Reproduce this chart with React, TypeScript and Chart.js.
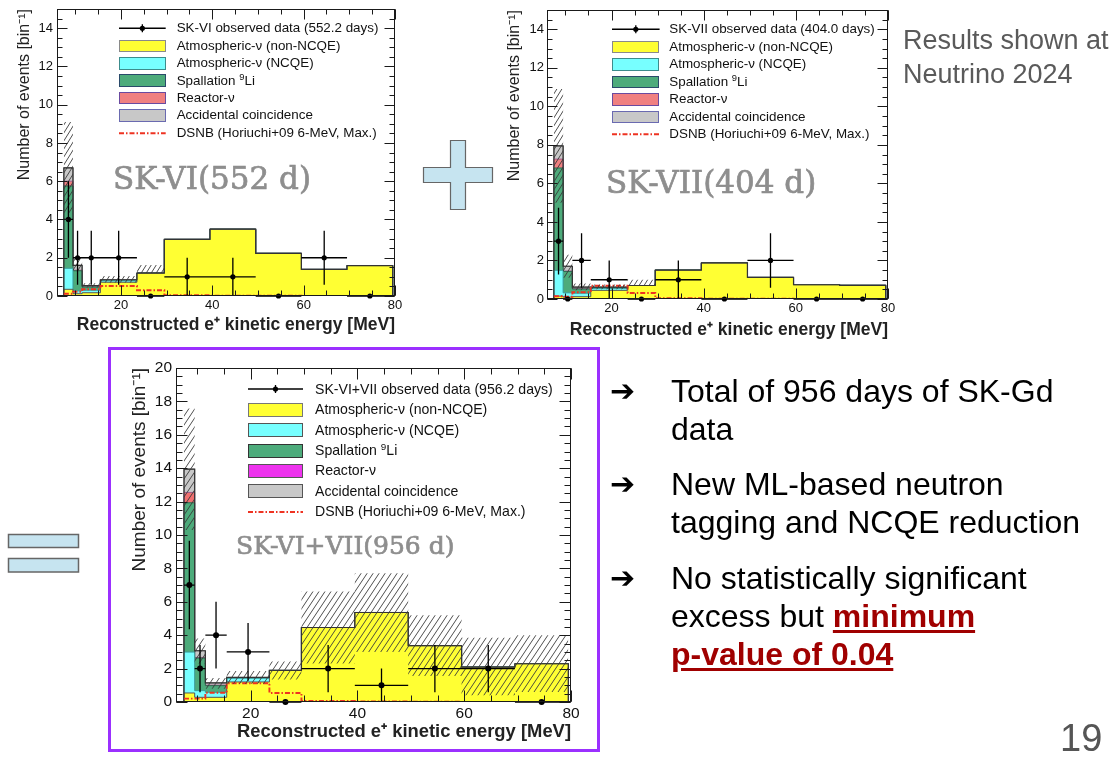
import React, { useEffect, useRef } from "react";
import { Chart, registerables } from "chart.js";

Chart.register(...registerables);

const FONT = '"Liberation Sans", Arial, Helvetica, sans-serif';
const SERIF = '"DejaVu Serif", serif';

// ---------- shared axis data ----------
const BIN_EDGES = [7.5, 9.5, 11.5, 15.5, 23.5, 29.5, 39.5, 49.5, 59.5, 69.5, 79.5];
const BIN_CENTERS = [8.5, 10.5, 13.5, 19.5, 26.5, 34.5, 44.5, 54.5, 64.5, 74.5];
const X_TICKS = [20, 40, 60, 80];
const Y_TICKS_15 = [0, 2, 4, 6, 8, 10, 12, 14];
const Y_TICKS_20 = [0, 2, 4, 6, 8, 10, 12, 14, 16, 18, 20];
const X_TITLE = "Reconstructed e\u207A kinetic energy [MeV]";
const Y_TITLE = "Number of events [bin\u207B\u00B9]";

// ---------- SK-VI (552 d) ----------
const SK6_ATM_NONNCQE = [0.35, 0.12, 0.17, 0.72, 1.2, 2.96, 3.49, 2.23, 1.39, 1.59];
const SK6_ATM_NCQE = [1.1, 0.15, 0.13, 0.08, 0, 0, 0, 0, 0, 0];
const SK6_LI9 = [4.3, 1.05, 0.17, 0.03, 0, 0, 0, 0, 0, 0];
const SK6_REACTOR = [0.25, 0.03, 0.01, 0, 0, 0, 0, 0, 0, 0];
const SK6_ACCIDENTAL = [0.7, 0.25, 0.06, 0.02, 0, 0, 0, 0, 0, 0];
const SK6_BAND_LOW = [4.3, 1.3, 0.45, 0.7, 1.2, 2.96, 3.49, 2.23, 1.39, 1.59];
const SK6_BAND_HIGH = [9.1, 2.0, 0.66, 1.05, 1.62, 2.96, 3.49, 2.23, 1.39, 1.59];
const SK6_DSNB = [0.12, 0.22, 0.35, 0.52, 0.3, 0.04, 0.02, 0.01, 0.005, 0.002];
const SK6_DATA = [4, 2, 2, 2, 0, 1, 1, 0, 2, 0];
const SK6_DATA_ERR = [2, 1.41, 1.41, 1.41, 0, 1, 1, 0, 1.41, 0];

// ---------- SK-VII (404 d) ----------
const SK7_ATM_NONNCQE = [0.15, 0.1, 0.12, 0.45, 0.7, 1.5, 1.87, 1.12, 0.74, 0.71];
const SK7_ATM_NCQE = [1.34, 0.22, 0.18, 0.1, 0, 0, 0, 0, 0, 0];
const SK7_LI9 = [5.31, 1.11, 0.22, 0.04, 0, 0, 0, 0, 0, 0];
const SK7_REACTOR = [0.46, 0.02, 0.02, 0, 0, 0, 0, 0, 0, 0];
const SK7_ACCIDENTAL = [0.69, 0.25, 0.08, 0.03, 0, 0, 0, 0, 0, 0];
const SK7_BAND_LOW = [5.0, 1.1, 0.45, 0.5, 0.7, 1.5, 1.87, 1.12, 0.74, 0.71];
const SK7_BAND_HIGH = [10.9, 2.3, 0.8, 0.75, 1.0, 1.5, 1.87, 1.12, 0.74, 0.71];
const SK7_DSNB = [0.14, 0.12, 0.35, 0.69, 0.31, 0.04, 0.02, 0.01, 0.005, 0.002];
const SK7_DATA = [3, 0, 2, 1, 0, 1, 0, 2, 0, 0];
const SK7_DATA_ERR = [1.73, 0, 1.41, 1, 0, 1, 0, 1.41, 0, 0];

// ---------- SK-VI+VII (956 d) ----------
const ALL_ATM_NONNCQE = [0.54, 0.28, 0.28, 1.2, 1.89, 4.46, 5.36, 3.37, 2.09, 2.29];
const ALL_ATM_NCQE = [2.45, 0.4, 0.3, 0.22, 0, 0, 0, 0, 0, 0];
const ALL_LI9 = [8.94, 1.95, 0.4, 0.02, 0, 0, 0, 0, 0, 0];
const ALL_REACTOR = [0.62, 0.04, 0.03, 0, 0, 0, 0, 0, 0, 0];
const ALL_ACCIDENTAL = [1.39, 0.4, 0.13, 0.03, 0, 0, 0, 0, 0, 0];
const ALL_BAND_LOW = [10.3, 2.3, 0.8, 1.1, 1.35, 2.3, 3.0, 1.55, 0.4, 0.6];
const ALL_BAND_HIGH = [17.57, 3.8, 1.43, 1.85, 2.43, 6.61, 7.71, 5.2, 3.85, 4.0];
const ALL_DSNB = [0.2, 0.2, 0.55, 1.12, 0.54, 0.06, 0.03, 0.015, 0.007, 0.003];
const ALL_DATA = [7, 2, 4, 3, 0, 2, 1, 2, 2, 0];
const ALL_DATA_ERR = [2.65, 1.41, 2, 1.73, 0, 1.41, 1, 1.41, 1.41, 0];

// ---------- legend texts ----------
const LEGEND_SK6 = [
  "SK-VI observed data (552.2 days)",
  "Atmospheric-\u03BD (non-NCQE)",
  "Atmospheric-\u03BD (NCQE)",
  "Spallation \u2079Li",
  "Reactor-\u03BD",
  "Accidental coincidence",
  "DSNB (Horiuchi+09 6-MeV, Max.)",
];
const LEGEND_SK7 = [
  "SK-VII observed data (404.0 days)",
  "Atmospheric-\u03BD (non-NCQE)",
  "Atmospheric-\u03BD (NCQE)",
  "Spallation \u2079Li",
  "Reactor-\u03BD",
  "Accidental coincidence",
  "DSNB (Horiuchi+09 6-MeV, Max.)",
];
const LEGEND_ALL = [
  "SK-VI+VII observed data (956.2 days)",
  "Atmospheric-\u03BD (non-NCQE)",
  "Atmospheric-\u03BD (NCQE)",
  "Spallation \u2079Li",
  "Reactor-\u03BD",
  "Accidental coincidence",
  "DSNB (Horiuchi+09 6-MeV, Max.)",
];
const WATERMARK_SK6 = "SK-VI(552 d)";
const WATERMARK_SK7 = "SK-VII(404 d)";
const WATERMARK_ALL = "SK-VI+VII(956 d)";

// ---------- styles ----------
const STACK_COLORS = ["#ffff33", "#77ffff", "#4dab7b", "#f08080", "#c8c8c8"];
const STACK_COLORS_ALL = ["#ffff33", "#77ffff", "#4dab7b", "#f07070", "#c8c8c8"];
const STACK_BORDERS = ["#555555", "#3a9c9c", "#2e6b52", "#a05a8a", "#777777"];
const LEG_FILLS_12 = ["#ffff33", "#77ffff", "#4dab7b", "#f08080", "#c8c8c8"];
const LEG_BORDERS_12 = ["#8a8a8a", "#3c8c8c", "#2a4a6a", "#6a4aa0", "#6a6ab0"];
const LEG_FILLS_3 = ["#ffff33", "#77ffff", "#4dab7b", "#ee33ee", "#c8c8c8"];
const LEG_BORDERS_3 = ["#777777", "#555555", "#333333", "#555555", "#555555"];

type HistSpec = {
  comps: number[][];
  colors: string[];
  bandLow: number[];
  bandHigh: number[];
  dsnb: number[];
  data: number[];
  err: number[];
  yMax: number;
  yTicks: number[];
  plotL: number;
  plotR: number;
  plotT: number;
  plotB: number;
  yTitleX: number;
  xTitleY: number;
  yTitleSize: number;
  xTitleSize: number;
  tickSize: number;
  yTickPad: number;
  xTickPad: number;
  majorLen: number;
  minorLen: number;
  hatchW: number;
  hatchH: number;
  pointR: number;
};

function stepPts(vals: number[], drops: boolean) {
  const n = vals.length;
  const pts: { x: number; y: number }[] = vals.map((v, i) => ({ x: BIN_EDGES[i], y: v }));
  pts.push({ x: BIN_EDGES[n], y: vals[n - 1] });
  if (drops) {
    pts.unshift({ x: BIN_EDGES[0], y: 0 });
    pts.push({ x: BIN_EDGES[n], y: 0 });
  }
  return pts;
}

const rootFramePlugin = {
  id: "rootFrame",
  afterDatasetsDraw(chart: any, _args: any, opts: any) {
    const { ctx, chartArea } = chart;
    const { left, right, top, bottom } = chartArea;
    const xs = chart.scales.x;
    const ys = chart.scales.y;
    ctx.save();
    ctx.strokeStyle = "#1a1a1a";
    ctx.lineWidth = 1;
    ctx.beginPath();
    const L = Math.round(left) + 0.5;
    const R = Math.round(right) - 0.5;
    const T = Math.round(top) + 0.5;
    const B = Math.round(bottom) - 0.5;
    const yTick = (v: number, len: number) => {
      const p = Math.round(ys.getPixelForValue(v)) + 0.5;
      ctx.moveTo(L, p);
      ctx.lineTo(L + len, p);
      ctx.moveTo(R, p);
      ctx.lineTo(R - len, p);
    };
    const xTick = (v: number, len: number) => {
      const p = Math.round(xs.getPixelForValue(v)) + 0.5;
      ctx.moveTo(p, B);
      ctx.lineTo(p, B - len);
      ctx.moveTo(p, T);
      ctx.lineTo(p, T + len);
    };
    for (let v = 0; v <= ys.max + 1e-9; v += opts.yMinor) yTick(v, opts.minorLen);
    for (const v of opts.yMajor) yTick(v, opts.majorLen);
    for (let v = Math.ceil(xs.min / opts.xMinor) * opts.xMinor; v <= xs.max + 1e-9; v += opts.xMinor) xTick(v, opts.minorLen);
    for (const v of opts.xMajor) xTick(v, opts.majorLen);
    ctx.stroke();
    ctx.strokeRect(L, T, R - L, B - T);
    ctx.restore();
  },
};

function makeHatch(ctx: CanvasRenderingContext2D, w: number, h: number) {
  const c = document.createElement("canvas");
  c.width = w;
  c.height = h;
  const g = c.getContext("2d")!;
  g.strokeStyle = "#3a3a3a";
  g.lineWidth = 0.9;
  g.beginPath();
  for (const dx of [-w, 0, w]) {
    g.moveTo(dx, h);
    g.lineTo(dx + w, 0);
  }
  g.stroke();
  return ctx.createPattern(c, "repeat");
}

function HistChart({ s }: { s: HistSpec }) {
  const ref = useRef<HTMLCanvasElement>(null);
  const yLH = 1.2 * s.yTitleSize;
  const xLH = 1.2 * s.xTitleSize;
  const cx = Math.floor(s.yTitleX - yLH / 2);
  const yTitlePad = s.yTitleX - yLH / 2 - cx;
  const padT = 30;
  const cy = s.plotT - padT;
  const cw = s.plotR + 30 - cx;
  const bottomEdge = s.xTitleY + xLH / 2;
  const ch = Math.ceil(bottomEdge - cy);
  const xTitlePad = cy + ch - bottomEdge;
  const yW = s.plotL - cx;
  const xH = cy + ch - s.plotB;

  useEffect(() => {
    const canvas = ref.current!;
    const hatch = makeHatch(canvas.getContext("2d")!, s.hatchW, s.hatchH);
    const cum: number[][] = [];
    s.comps.forEach((c, k) => cum.push(c.map((v, i) => v + (k > 0 ? cum[k - 1][i] : 0))));

    const errPts: { x: number; y: number | null }[] = [];
    s.data.forEach((v, i) => {
      errPts.push({ x: BIN_EDGES[i], y: v }, { x: BIN_EDGES[i + 1], y: v }, { x: BIN_CENTERS[i], y: null });
      if (s.err[i] > 0) {
        errPts.push(
          { x: BIN_CENTERS[i], y: v - s.err[i] },
          { x: BIN_CENTERS[i], y: v + s.err[i] },
          { x: BIN_CENTERS[i], y: null }
        );
      }
    });

    const ds: any[] = [
      {
        data: s.data.map((v, i) => ({ x: BIN_CENTERS[i], y: v })),
        showLine: false,
        pointRadius: s.pointR,
        pointBackgroundColor: "#000",
        pointBorderWidth: 0,
        order: 0,
        clip: false,
      },
      {
        data: errPts,
        borderColor: "#000",
        borderWidth: 1.3,
        pointRadius: 0,
        spanGaps: false,
        order: 1,
        clip: false,
        fill: false,
      },
      {
        data: stepPts(s.bandLow, false),
        borderWidth: 0,
        borderColor: "rgba(0,0,0,0)",
        pointRadius: 0,
        stepped: true,
        order: 3,
        fill: false,
      },
      {
        data: stepPts(s.bandHigh, false),
        borderWidth: 0,
        borderColor: "rgba(0,0,0,0)",
        backgroundColor: hatch,
        pointRadius: 0,
        stepped: true,
        order: 2,
        fill: "-1",
      },
      {
        data: stepPts(s.dsnb, false),
        borderColor: "#ee3322",
        borderWidth: 1.9,
        borderDash: [5, 2, 1.5, 2],
        pointRadius: 0,
        stepped: true,
        order: 4,
        fill: false,
      },
      {
        data: stepPts(cum[4], true),
        borderColor: "#333333",
        borderWidth: 1.2,
        pointRadius: 0,
        stepped: true,
        order: 5,
        fill: false,
      },
    ];
    for (let k = 0; k < 5; k++) {
      ds.push({
        data: stepPts(cum[k], true),
        borderColor: STACK_BORDERS[k],
        borderWidth: 1,
        backgroundColor: s.colors[k],
        fill: "origin",
        pointRadius: 0,
        stepped: true,
        order: 6 + k,
      });
    }

    const chart = new Chart(canvas, {
      type: "line",
      data: { datasets: ds },
      plugins: [rootFramePlugin as any],
      options: {
        animation: false,
        responsive: false,
        events: [],
        layout: { autoPadding: false, padding: { left: 0, top: padT, right: 30, bottom: 0 } } as any,
        plugins: {
          legend: { display: false },
          tooltip: { enabled: false },
          rootFrame: {
            yMajor: s.yTicks,
            yMinor: 0.5,
            xMajor: X_TICKS,
            xMinor: 5,
            majorLen: s.majorLen,
            minorLen: s.minorLen,
          },
        } as any,
        scales: {
          x: {
            type: "linear",
            min: 6,
            max: 80,
            grid: { display: false, drawTicks: false },
            border: { display: false },
            afterBuildTicks: (sc: any) => {
              sc.ticks = X_TICKS.map((v) => ({ value: v }));
            },
            afterFit: (sc: any) => {
              sc.height = xH;
            },
            ticks: {
              font: { family: FONT, size: s.tickSize },
              color: "#111",
              padding: s.xTickPad,
              maxRotation: 0,
              autoSkip: false,
            },
            title: {
              display: true,
              text: X_TITLE,
              align: "end",
              color: "#222",
              font: { family: FONT, size: s.xTitleSize, weight: "bold" },
              padding: { top: 0, bottom: xTitlePad },
            },
          },
          y: {
            type: "linear",
            min: 0,
            max: s.yMax,
            grid: { display: false, drawTicks: false },
            border: { display: false },
            afterBuildTicks: (sc: any) => {
              sc.ticks = s.yTicks.map((v) => ({ value: v }));
            },
            afterFit: (sc: any) => {
              sc.width = yW;
            },
            ticks: {
              font: { family: FONT, size: s.tickSize },
              color: "#111",
              padding: s.yTickPad,
              autoSkip: false,
            },
            title: {
              display: true,
              text: Y_TITLE,
              align: "end",
              color: "#222",
              font: { family: FONT, size: s.yTitleSize },
              padding: { top: yTitlePad, bottom: 0 },
            },
          },
        } as any,
      },
    });
    return () => chart.destroy();
  }, []);

  return (
    <canvas
      ref={ref}
      width={cw}
      height={ch}
      style={{ position: "absolute", left: cx, top: cy, width: cw, height: ch, display: "block" }}
    />
  );
}

function renderLabel(lab: string) {
  const i = lab.indexOf("\u2079");
  if (i < 0) return lab;
  return (
    <>
      {lab.slice(0, i)}
      <span style={{ fontSize: "0.7em", position: "relative", top: "-0.55em" }}>9</span>
      {lab.slice(i + 1)}
    </>
  );
}

type LegendSpec = {
  labels: string[];
  fills: string[];
  borders: string[];
  boxX: number;
  boxW: number;
  boxH: number;
  row0: number;
  dy: number;
  textX: number;
  fontSize: number;
};

function Legend({ l }: { l: LegendSpec }) {
  return (
    <>
      {l.labels.map((lab, i) => {
        const cyy = l.row0 + l.dy * i;
        const w = l.boxW;
        const h = l.boxH;
        let sym: React.ReactNode;
        if (i === 0) {
          sym = (
            <svg width={w} height={h} style={{ display: "block", overflow: "visible" }}>
              <line x1={0} y1={h / 2} x2={w} y2={h / 2} stroke="#000" strokeWidth={1.3} />
              <line x1={w / 2} y1={h / 2 - 4} x2={w / 2} y2={h / 2 + 4} stroke="#000" strokeWidth={1.3} />
              <circle cx={w / 2} cy={h / 2} r={2.6} fill="#000" />
            </svg>
          );
        } else if (i === 6) {
          sym = (
            <svg width={w} height={h} style={{ display: "block" }}>
              <line x1={0} y1={h / 2} x2={w} y2={h / 2} stroke="#ee3322" strokeWidth={1.9} strokeDasharray="5 2 1.5 2" />
            </svg>
          );
        } else {
          sym = (
            <div
              style={{
                width: w,
                height: h,
                boxSizing: "border-box",
                background: l.fills[i - 1],
                border: `1.5px solid ${l.borders[i - 1]}`,
              }}
            />
          );
        }
        return (
          <React.Fragment key={i}>
            <div style={{ position: "absolute", left: l.boxX, top: cyy - h / 2, width: w, height: h }}>{sym}</div>
            <div
              style={{
                position: "absolute",
                left: l.textX,
                top: cyy - l.fontSize * 0.6,
                fontSize: l.fontSize,
                lineHeight: `${l.fontSize * 1.2}px`,
                fontFamily: FONT,
                whiteSpace: "nowrap",
                color: "#111",
              }}
            >
              {renderLabel(lab)}
            </div>
          </React.Fragment>
        );
      })}
    </>
  );
}

function Watermark({ text, left, top, size }: { text: string; left: number; top: number; size: number }) {
  return (
    <div
      style={{
        position: "absolute",
        left,
        top,
        fontFamily: SERIF,
        fontSize: size,
        lineHeight: 1,
        color: "#8e8e8e",
        WebkitTextStroke: "0.7px #8e8e8e",
        whiteSpace: "nowrap",
      }}
    >
      {text}
    </div>
  );
}

const SPEC_SK6: HistSpec = {
  comps: [SK6_ATM_NONNCQE, SK6_ATM_NCQE, SK6_LI9, SK6_REACTOR, SK6_ACCIDENTAL],
  colors: STACK_COLORS,
  bandLow: SK6_BAND_LOW,
  bandHigh: SK6_BAND_HIGH,
  dsnb: SK6_DSNB,
  data: SK6_DATA,
  err: SK6_DATA_ERR,
  yMax: 15,
  yTicks: Y_TICKS_15,
  plotL: 57,
  plotR: 395,
  plotT: 9,
  plotB: 296,
  yTitleX: 25,
  xTitleY: 325,
  yTitleSize: 16,
  xTitleSize: 17.5,
  tickSize: 13,
  yTickPad: 4,
  xTickPad: 2,
  majorLen: 10,
  minorLen: 5,
  hatchW: 5,
  hatchH: 8,
  pointR: 2.6,
};

const SPEC_SK7: HistSpec = {
  comps: [SK7_ATM_NONNCQE, SK7_ATM_NCQE, SK7_LI9, SK7_REACTOR, SK7_ACCIDENTAL],
  colors: STACK_COLORS,
  bandLow: SK7_BAND_LOW,
  bandHigh: SK7_BAND_HIGH,
  dsnb: SK7_DSNB,
  data: SK7_DATA,
  err: SK7_DATA_ERR,
  yMax: 15,
  yTicks: Y_TICKS_15,
  plotL: 547,
  plotR: 888,
  plotT: 10,
  plotB: 299,
  yTitleX: 515,
  xTitleY: 330,
  yTitleSize: 16,
  xTitleSize: 17.5,
  tickSize: 13,
  yTickPad: 3,
  xTickPad: 2,
  majorLen: 10,
  minorLen: 5,
  hatchW: 5,
  hatchH: 8,
  pointR: 2.6,
};

const SPEC_ALL: HistSpec = {
  comps: [ALL_ATM_NONNCQE, ALL_ATM_NCQE, ALL_LI9, ALL_REACTOR, ALL_ACCIDENTAL],
  colors: STACK_COLORS_ALL,
  bandLow: ALL_BAND_LOW,
  bandHigh: ALL_BAND_HIGH,
  dsnb: ALL_DSNB,
  data: ALL_DATA,
  err: ALL_DATA_ERR,
  yMax: 20,
  yTicks: Y_TICKS_20,
  plotL: 176,
  plotR: 571,
  plotT: 368,
  plotB: 702,
  yTitleX: 140,
  xTitleY: 731.7,
  yTitleSize: 19,
  xTitleSize: 18.4,
  tickSize: 15.5,
  yTickPad: 4,
  xTickPad: 2,
  majorLen: 11,
  minorLen: 6,
  hatchW: 6,
  hatchH: 9,
  pointR: 3,
};

const LEG_SK6: LegendSpec = {
  labels: LEGEND_SK6,
  fills: LEG_FILLS_12,
  borders: LEG_BORDERS_12,
  boxX: 119.3,
  boxW: 46.7,
  boxH: 12.5,
  row0: 28.5,
  dy: 17.4,
  textX: 176.7,
  fontSize: 13.4,
};
const LEG_SK7: LegendSpec = {
  labels: LEGEND_SK7,
  fills: LEG_FILLS_12,
  borders: LEG_BORDERS_12,
  boxX: 611.7,
  boxW: 47.6,
  boxH: 12.5,
  row0: 29.3,
  dy: 17.5,
  textX: 669.3,
  fontSize: 13.4,
};
const LEG_ALL: LegendSpec = {
  labels: LEGEND_ALL,
  fills: LEG_FILLS_3,
  borders: LEG_BORDERS_3,
  boxX: 248.3,
  boxW: 55,
  boxH: 14,
  row0: 389.3,
  dy: 20.4,
  textX: 315,
  fontSize: 14.1,
};

const BULLET_1 = ["Total of 956 days of SK-Gd", "data"];
const BULLET_2 = ["New ML-based neutron", "tagging and NCQE reduction"];
const BULLET_3A = "No statistically significant";
const BULLET_3B = "excess but ";
const BULLET_3C = "minimum";
const BULLET_3D = "p-value of 0.04";
const NOTE = ["Results shown at", "Neutrino 2024"];
const PAGE_NO = "19";

export default function App() {
  const bulletText: React.CSSProperties = {
    position: "absolute",
    left: 671,
    fontFamily: FONT,
    fontSize: 32,
    lineHeight: "38px",
    color: "#000",
    whiteSpace: "nowrap",
  };
  const arrow: React.CSSProperties = {
    position: "absolute",
    left: 610,
    fontFamily: '"DejaVu Sans", sans-serif',
    fontSize: 30,
    lineHeight: "38px",
    color: "#000",
  };
  const red: React.CSSProperties = {
    color: "#a00000",
    fontWeight: "bold",
    textDecoration: "underline",
    textDecorationThickness: "3px",
    textUnderlineOffset: "3px",
  };
  return (
    <div
      style={{
        position: "absolute",
        left: 0,
        top: 0,
        width: 1119,
        height: 757,
        overflow: "hidden",
        background: "#fff",
      }}
    >
      {/* purple frame around combined plot */}
      <div
        style={{
          position: "absolute",
          left: 108,
          top: 347,
          width: 492,
          height: 405,
          boxSizing: "border-box",
          border: "3px solid #9b30ff",
        }}
      />

      <HistChart s={SPEC_SK6} />
      <HistChart s={SPEC_SK7} />
      <HistChart s={SPEC_ALL} />

      <Legend l={LEG_SK6} />
      <Legend l={LEG_SK7} />
      <Legend l={LEG_ALL} />

      <Watermark text={WATERMARK_SK6} left={113} top={163} size={31} />
      <Watermark text={WATERMARK_SK7} left={606} top={167} size={31} />
      <Watermark text={WATERMARK_ALL} left={236} top={533} size={25} />

      {/* plus and equals signs */}
      <svg width={1119} height={757} style={{ position: "absolute", left: 0, top: 0, pointerEvents: "none" }}>
        <polygon
          points="450.5,140.5 465.5,140.5 465.5,167.5 492.5,167.5 492.5,182.5 465.5,182.5 465.5,209.5 450.5,209.5 450.5,182.5 423.5,182.5 423.5,167.5 450.5,167.5"
          fill="#c6e4f0"
          stroke="#666"
          strokeWidth={1.2}
        />
        <rect x={8.5} y={534.5} width={70} height={13} fill="#c6e4f0" stroke="#666" strokeWidth={1.5} />
        <rect x={8.5} y={558.5} width={70} height={13.5} fill="#c6e4f0" stroke="#666" strokeWidth={1.5} />
      </svg>

      {/* bullets */}
      <div style={{ ...arrow, top: 371.6 }}>{"\u2794"}</div>
      <div style={{ ...bulletText, top: 371.6 }}>
        {BULLET_1[0]}
        <br />
        {BULLET_1[1]}
      </div>
      <div style={{ ...arrow, top: 465 }}>{"\u2794"}</div>
      <div style={{ ...bulletText, top: 465 }}>
        {BULLET_2[0]}
        <br />
        {BULLET_2[1]}
      </div>
      <div style={{ ...arrow, top: 559.2 }}>{"\u2794"}</div>
      <div style={{ ...bulletText, top: 559.2 }}>
        {BULLET_3A}
        <br />
        {BULLET_3B}
        <span style={red}>{BULLET_3C}</span>
        <br />
        <span style={red}>{BULLET_3D}</span>
      </div>

      {/* note top right */}
      <div
        style={{
          position: "absolute",
          left: 903,
          top: 23,
          fontFamily: FONT,
          fontSize: 27,
          lineHeight: "34px",
          color: "#5a5a5a",
          whiteSpace: "nowrap",
        }}
      >
        {NOTE[0]}
        <br />
        {NOTE[1]}
      </div>

      {/* page number */}
      <div
        style={{
          position: "absolute",
          left: 1060,
          top: 718.8,
          fontFamily: FONT,
          fontSize: 38,
          lineHeight: 1,
          color: "#555",
        }}
      >
        {PAGE_NO}
      </div>
    </div>
  );
}
